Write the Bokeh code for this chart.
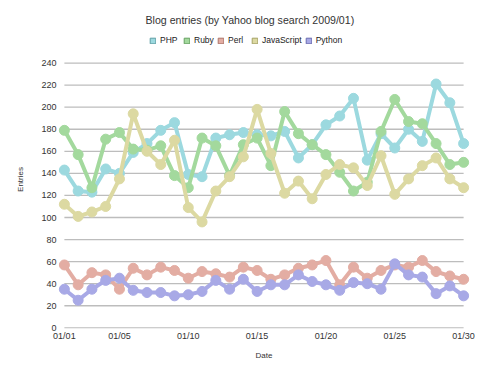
from bokeh.plotting import figure
from bokeh.models import Range1d, FixedTicker, Legend, LegendItem, Title
from bokeh.embed import file_html
from bokeh.resources import INLINE

days = list(range(1, 31))
x_tick_days = [1, 5, 10, 15, 20, 25, 30]
x_tick_labels = ["01/01", "01/05", "01/10", "01/15", "01/20", "01/25", "01/30"]
y_ticks = list(range(0, 241, 20))

php = [143, 124, 123, 144, 140, 159, 167, 179, 186, 139, 137, 172, 175, 177, 175,
       174, 178, 154, 166, 184, 192, 208, 152, 176, 163, 180, 169, 221, 204, 167]
ruby = [179, 157, 127, 171, 177, 162, 161, 165, 138, 127, 172, 165, 138, 166, 172,
        147, 196, 176, 166, 157, 141, 124, 132, 178, 207, 187, 185, 167, 148, 150]
perl = [57, 39, 50, 48, 35, 54, 48, 55, 52, 45, 51, 49, 46, 55, 52,
        44, 48, 54, 57, 61, 39, 55, 45, 52, 57, 55, 61, 51, 47, 44]
javascript = [112, 101, 105, 110, 135, 194, 160, 148, 170, 109, 96, 124, 137, 155, 198,
              158, 122, 133, 117, 139, 148, 145, 129, 156, 121, 135, 147, 154, 135, 127]
python = [35, 25, 35, 43, 45, 34, 32, 32, 29, 30, 33, 43, 35, 44, 33,
          39, 39, 48, 42, 39, 34, 41, 40, 35, 58, 48, 46, 31, 38, 29]

names = ["PHP", "Ruby", "Perl", "JavaScript", "Python"]
series = [php, ruby, perl, javascript, python]
colors = ["#9cd9df", "#a3d99d", "#e3ada3", "#dcd9a2", "#a8a9e6"]
edge_colors = ["#5f9fa5", "#66a060", "#ad7469", "#a5a265", "#6b6cb0"]

FONT = "Liberation Sans"

p = figure(width=500, height=375, output_backend="svg", toolbar_location=None,
           x_range=Range1d(days[0] - 0.5, days[-1] + 0.5),
           y_range=Range1d(-0.6, 269.5),
           min_border_left=57, min_border_right=30, min_border_top=30, min_border_bottom=47)
p.outline_line_color = None
p.xgrid.grid_line_color = None
p.ygrid.grid_line_color = None

# horizontal gridlines spanning the date range
p.segment(x0=[days[0]] * len(y_ticks), x1=[days[-1]] * len(y_ticks),
          y0=y_ticks, y1=y_ticks, line_color="#bdbdbd", line_width=1.3)

for vals, col in zip(series, colors):
    p.line(days, vals, line_color=col, line_width=4)
    p.scatter(days, vals, size=10, fill_color=col, line_color=col)

# legend proxies (square swatches), placed outside the visible range
items = []
for name, col, ec in zip(names, colors, edge_colors):
    r = p.quad(left=[days[0]], right=[days[0]], bottom=[-100], top=[-100],
               fill_color=col, line_color=ec, line_width=1)
    items.append(LegendItem(label=name, renderers=[r]))
legend = Legend(items=items, orientation="horizontal", location=(92, 283),
                glyph_width=7, glyph_height=7, label_standoff=4, spacing=3,
                label_text_font=FONT, label_text_font_size="8.5px", label_text_color="#222222",
                label_height=8, padding=2, margin=0,
                border_line_color=None, background_fill_alpha=0)
p.add_layout(legend, "center")

p.title = Title(text="Blog entries (by Yahoo blog search 2009/01)", align="left", offset=88,
                text_font=FONT, text_font_size="10.6px", text_font_style="normal",
                text_color="#333333")

p.xaxis.ticker = FixedTicker(ticks=x_tick_days)
p.xaxis.major_label_overrides = {d: l for d, l in zip(x_tick_days, x_tick_labels)}
p.yaxis.ticker = FixedTicker(ticks=y_ticks)
for ax in (p.xaxis[0], p.yaxis[0]):
    ax.axis_line_color = None
    ax.major_tick_line_color = None
    ax.minor_tick_line_color = None
    ax.major_tick_out = 0
    ax.major_tick_in = 0
    ax.minor_tick_out = 0
    ax.minor_tick_in = 0
    ax.major_label_text_font = FONT
    ax.major_label_text_font_size = "9px"
    ax.major_label_text_color = "#333333"
    ax.axis_label_text_font = FONT
    ax.axis_label_text_font_size = "8px"
    ax.axis_label_text_font_style = "normal"
    ax.axis_label_text_color = "#333333"
p.xaxis.axis_label = "Date"
p.yaxis.axis_label = "Entries"
p.xaxis.major_label_standoff = 2
p.yaxis.major_label_standoff = 1
p.xaxis.axis_label_standoff = 7
p.yaxis.axis_label_standoff = 13

open("out.html", "w").write(file_html(p, INLINE))
